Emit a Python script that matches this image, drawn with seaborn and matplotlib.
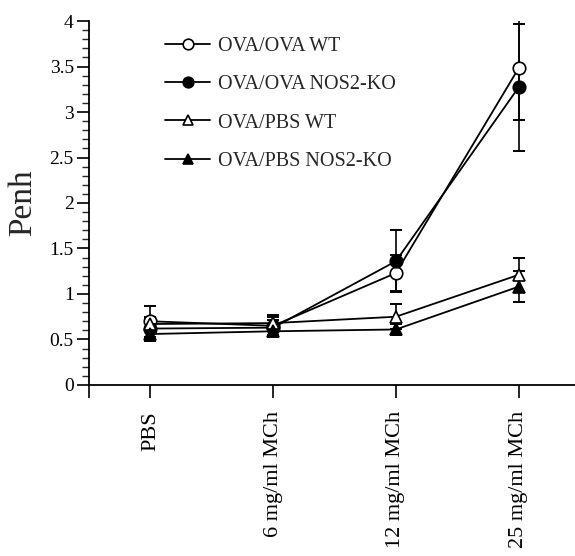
import matplotlib
matplotlib.use("Agg")
import matplotlib.pyplot as plt
import seaborn as sns
import numpy as np
import pandas as pd
from matplotlib.ticker import MultipleLocator

categories = ["PBS", "6 mg/ml MCh", "12 mg/ml MCh", "25 mg/ml MCh"]
series_names = ["OVA/OVA WT", "OVA/OVA NOS2-KO", "OVA/PBS WT", "OVA/PBS NOS2-KO"]
ova_wt = [0.70, 0.65, 1.23, 3.48]
ova_ko = [0.62, 0.63, 1.36, 3.27]
pbs_wt = [0.67, 0.68, 0.75, 1.21]
pbs_ko = [0.56, 0.59, 0.61, 1.08]
ova_wt_err = [0.17, 0.12, 0.20, 0.57]
ova_ko_err = [0.12, 0.08, 0.34, 0.70]
pbs_wt_err = [0.08, 0.07, 0.14, 0.19]
pbs_ko_err = [0.08, 0.06, 0.06, 0.17]

sns.set_theme(style="ticks")
plt.rcParams['font.family'] = ['Liberation Serif', 'DejaVu Serif']

fig = plt.figure(figsize=(5.75, 5.56), dpi=100)
ax = fig.add_axes([0.155, 0.3076, 0.845, 0.6546])

values = [ova_wt, ova_ko, pbs_wt, pbs_ko]
errors = [ova_wt_err, ova_ko_err, pbs_wt_err, pbs_ko_err]
markers = ["o", "o", "^", "^"]
faces = ["white", "black", "white", "black"]

for name, vals, errs, mk, fc in zip(series_names, values, errors, markers, faces):
    df = pd.DataFrame({"x": categories, "y": vals})
    xpos = np.arange(len(categories))
    ax.errorbar(xpos, vals, yerr=errs, fmt="none", ecolor="black",
                elinewidth=1.2, capsize=4.5, capthick=1.4, zorder=2)
    sns.lineplot(data=df, x="x", y="y", ax=ax, color="black", linewidth=1.3,
                 marker=mk, markersize=9, markerfacecolor=fc,
                 markeredgecolor="black", markeredgewidth=1.2,
                 label=name, zorder=3, sort=False)

ax.set_xlim(-0.5, 3.46)
ax.set_ylim(0, 4)
ax.yaxis.set_major_locator(MultipleLocator(0.5))
ax.yaxis.set_minor_locator(MultipleLocator(0.1))
ax.set_yticks([0, 0.5, 1, 1.5, 2, 2.5, 3, 3.5, 4])
ax.set_yticklabels(["0", "0.5", "1", "1.5", "2", "2.5", "3", "3.5", "4"], fontsize=14)
ax.set_xticks([-0.5] + list(range(len(categories))))
ax.set_xticklabels([""] + categories, rotation=90, fontsize=16)
ax.tick_params(axis="both", direction="out", length=9, width=1.2, colors="black", pad=2)
ax.tick_params(axis="y", which="minor", length=5, width=1.0)
ax.tick_params(axis="x", pad=10)
ax.set_xlabel("")
ax.set_ylabel("Penh", fontsize=24, labelpad=8)
for s in ["top", "right"]:
    ax.spines[s].set_visible(False)
for s in ["left", "bottom"]:
    ax.spines[s].set_linewidth(1.3)
    ax.spines[s].set_color("black")

leg = ax.legend(loc="upper left", bbox_to_anchor=(0.119, 1.006), frameon=False,
                fontsize=14.5, handlelength=2.25, labelspacing=0.95, handletextpad=0.4,
                markerscale=0.85)

fig.savefig("out.png", dpi=100)
